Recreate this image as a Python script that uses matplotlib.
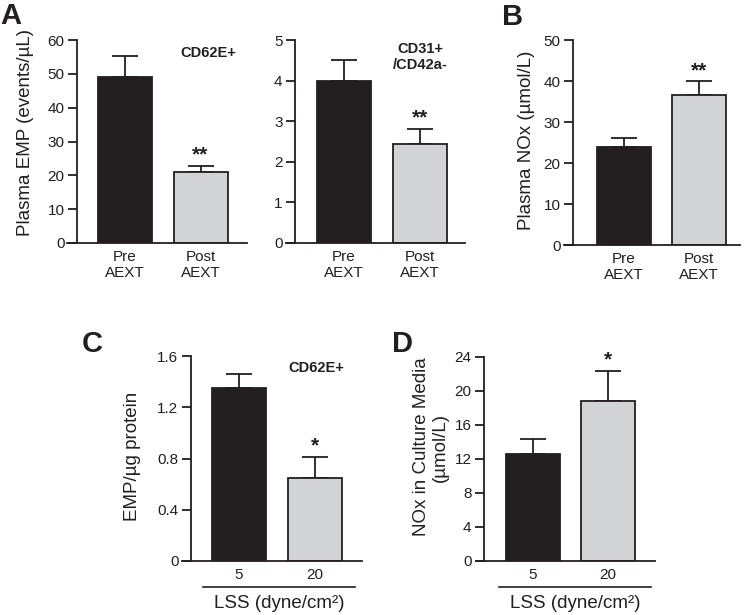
import matplotlib.pyplot as plt
from matplotlib.lines import Line2D

plt.rcParams['font.family'] = ['Liberation Sans', 'DejaVu Sans']

# data
aext_labels = ['Pre\nAEXT', 'Post\nAEXT']
emp_cd62e = [49.2, 20.9]
emp_cd62e_err = [6.1, 2.0]
emp_cd31 = [3.98, 2.45]
emp_cd31_err = [0.52, 0.36]
nox_plasma = [24.0, 36.5]
nox_plasma_err = [2.0, 3.4]

lss_labels = ['5', '20']
emp_lss = [1.35, 0.65]
emp_lss_err = [0.11, 0.16]
nox_media = [12.6, 18.8]
nox_media_err = [1.7, 3.6]

W, H = 744, 615
fig = plt.figure(figsize=(W / 100, H / 100), dpi=100)

dark = '#231f20'
grey = '#d1d3d4'


def panel(box, spine_x, c0, sp, vals, errs, labels, ylim, yticks, yticklabels,
          ylabel, ylab_xy, stars, note=None, note_xy=None):
    left, top, right, bottom = box
    ax = fig.add_axes([left / W, 1 - bottom / H, (right - left) / W, (bottom - top) / H])
    x = [0, 1]
    ax.bar(x, vals, width=54 / sp, color=[dark, grey], edgecolor=dark, linewidth=1.3, zorder=2)
    ax.errorbar(x, vals, yerr=[[0, 0], errs], fmt='none', ecolor=dark, elinewidth=1.3,
                capsize=9.5, capthick=1.3, zorder=1)
    ax.set_xlim((left - c0) / sp, (right - c0) / sp)
    ax.set_ylim(*ylim)
    ax.set_yticks(yticks)
    ax.set_yticklabels(yticklabels)
    ax.set_xticks(x)
    ax.set_xticklabels(labels, linespacing=1.2)
    for s in ['top', 'right']:
        ax.spines[s].set_visible(False)
    ax.spines['left'].set_position(('axes', (spine_x - left) / (right - left)))
    for s in ['left', 'bottom']:
        ax.spines[s].set_linewidth(1.3)
        ax.spines[s].set_color(dark)
    ax.tick_params(axis='y', length=6.5, width=1.3, pad=2.5, labelsize=11, colors=dark)
    ax.tick_params(axis='x', length=0, pad=5, labelsize=11, colors=dark)
    ax.set_ylabel(ylabel, fontsize=13.5, color=dark, linespacing=1.15)
    ax.yaxis.set_label_coords((ylab_xy[0] - left) / (right - left),
                              (bottom - ylab_xy[1]) / (bottom - top))
    for i, s in enumerate(stars):
        if s:
            ax.annotate(s, (x[i], vals[i] + errs[i]), xytext=(0, 1), textcoords='offset points',
                        ha='center', va='bottom', fontsize=15, fontweight='bold', color=dark)
    if note:
        fig.text(note_xy[0] / W, 1 - note_xy[1] / H, note, ha='center', va='center',
                 fontsize=10.5, fontweight='bold', color=dark, linespacing=1.15)
    return ax


panel((67, 40, 247, 243), 77, 124.5, 76, emp_cd62e, emp_cd62e_err, aext_labels,
      (0, 60), range(0, 61, 10), [str(v) for v in range(0, 61, 10)],
      'Plasma EMP (events/µL)', (34, 133), ['', '**'], 'CD62E+', (208, 53))

panel((286, 40, 465, 243), 295, 344, 76, emp_cd31, emp_cd31_err, aext_labels,
      (0, 5), range(0, 6), [str(v) for v in range(0, 6)],
      '', (260, 140), ['', '**'], 'CD31+\n/CD42a-', (420, 57))

panel((564, 40, 740, 245), 573, 624, 75, nox_plasma, nox_plasma_err, aext_labels,
      (0, 50), range(0, 51, 10), [str(v) for v in range(0, 51, 10)],
      'Plasma NOx (µmol/L)', (535, 140), ['', '**'])

panel((182, 356, 362, 561), 191, 238.5, 76, emp_lss, emp_lss_err, lss_labels,
      (0, 1.6), [0, 0.4, 0.8, 1.2, 1.6], ['0', '0.4', '0.8', '1.2', '1.6'],
      'EMP/µg protein', (141, 456), ['', '*'], 'CD62E+', (316, 368))

panel((476, 357, 655, 561), 484, 533, 75, nox_media, nox_media_err, lss_labels,
      (0, 24), range(0, 25, 4), [str(v) for v in range(0, 25, 4)],
      'NOx in Culture Media\n(µmol/L)', (449, 447), ['', '*'])

# group line and label under the shear-stress panels
for x0, x1 in [(203, 355), (499, 651)]:
    fig.add_artist(Line2D([x0 / W, x1 / W], [1 - 587 / H, 1 - 587 / H], color=dark, lw=1.2))
    fig.text((x0 + x1) / 2 / W, 1 - 603 / H, 'LSS (dyne/cm²)', ha='center', va='center',
             fontsize=13.5, color=dark)

for letter, px, py in [('A', 0, 2), ('B', 502, 3), ('C', 82, 330), ('D', 392, 330)]:
    fig.text(px / W, 1 - py / H, letter, ha='left', va='top', fontsize=21,
             fontweight='bold', color=dark)

fig.savefig('out.png', dpi=100, facecolor='white')
